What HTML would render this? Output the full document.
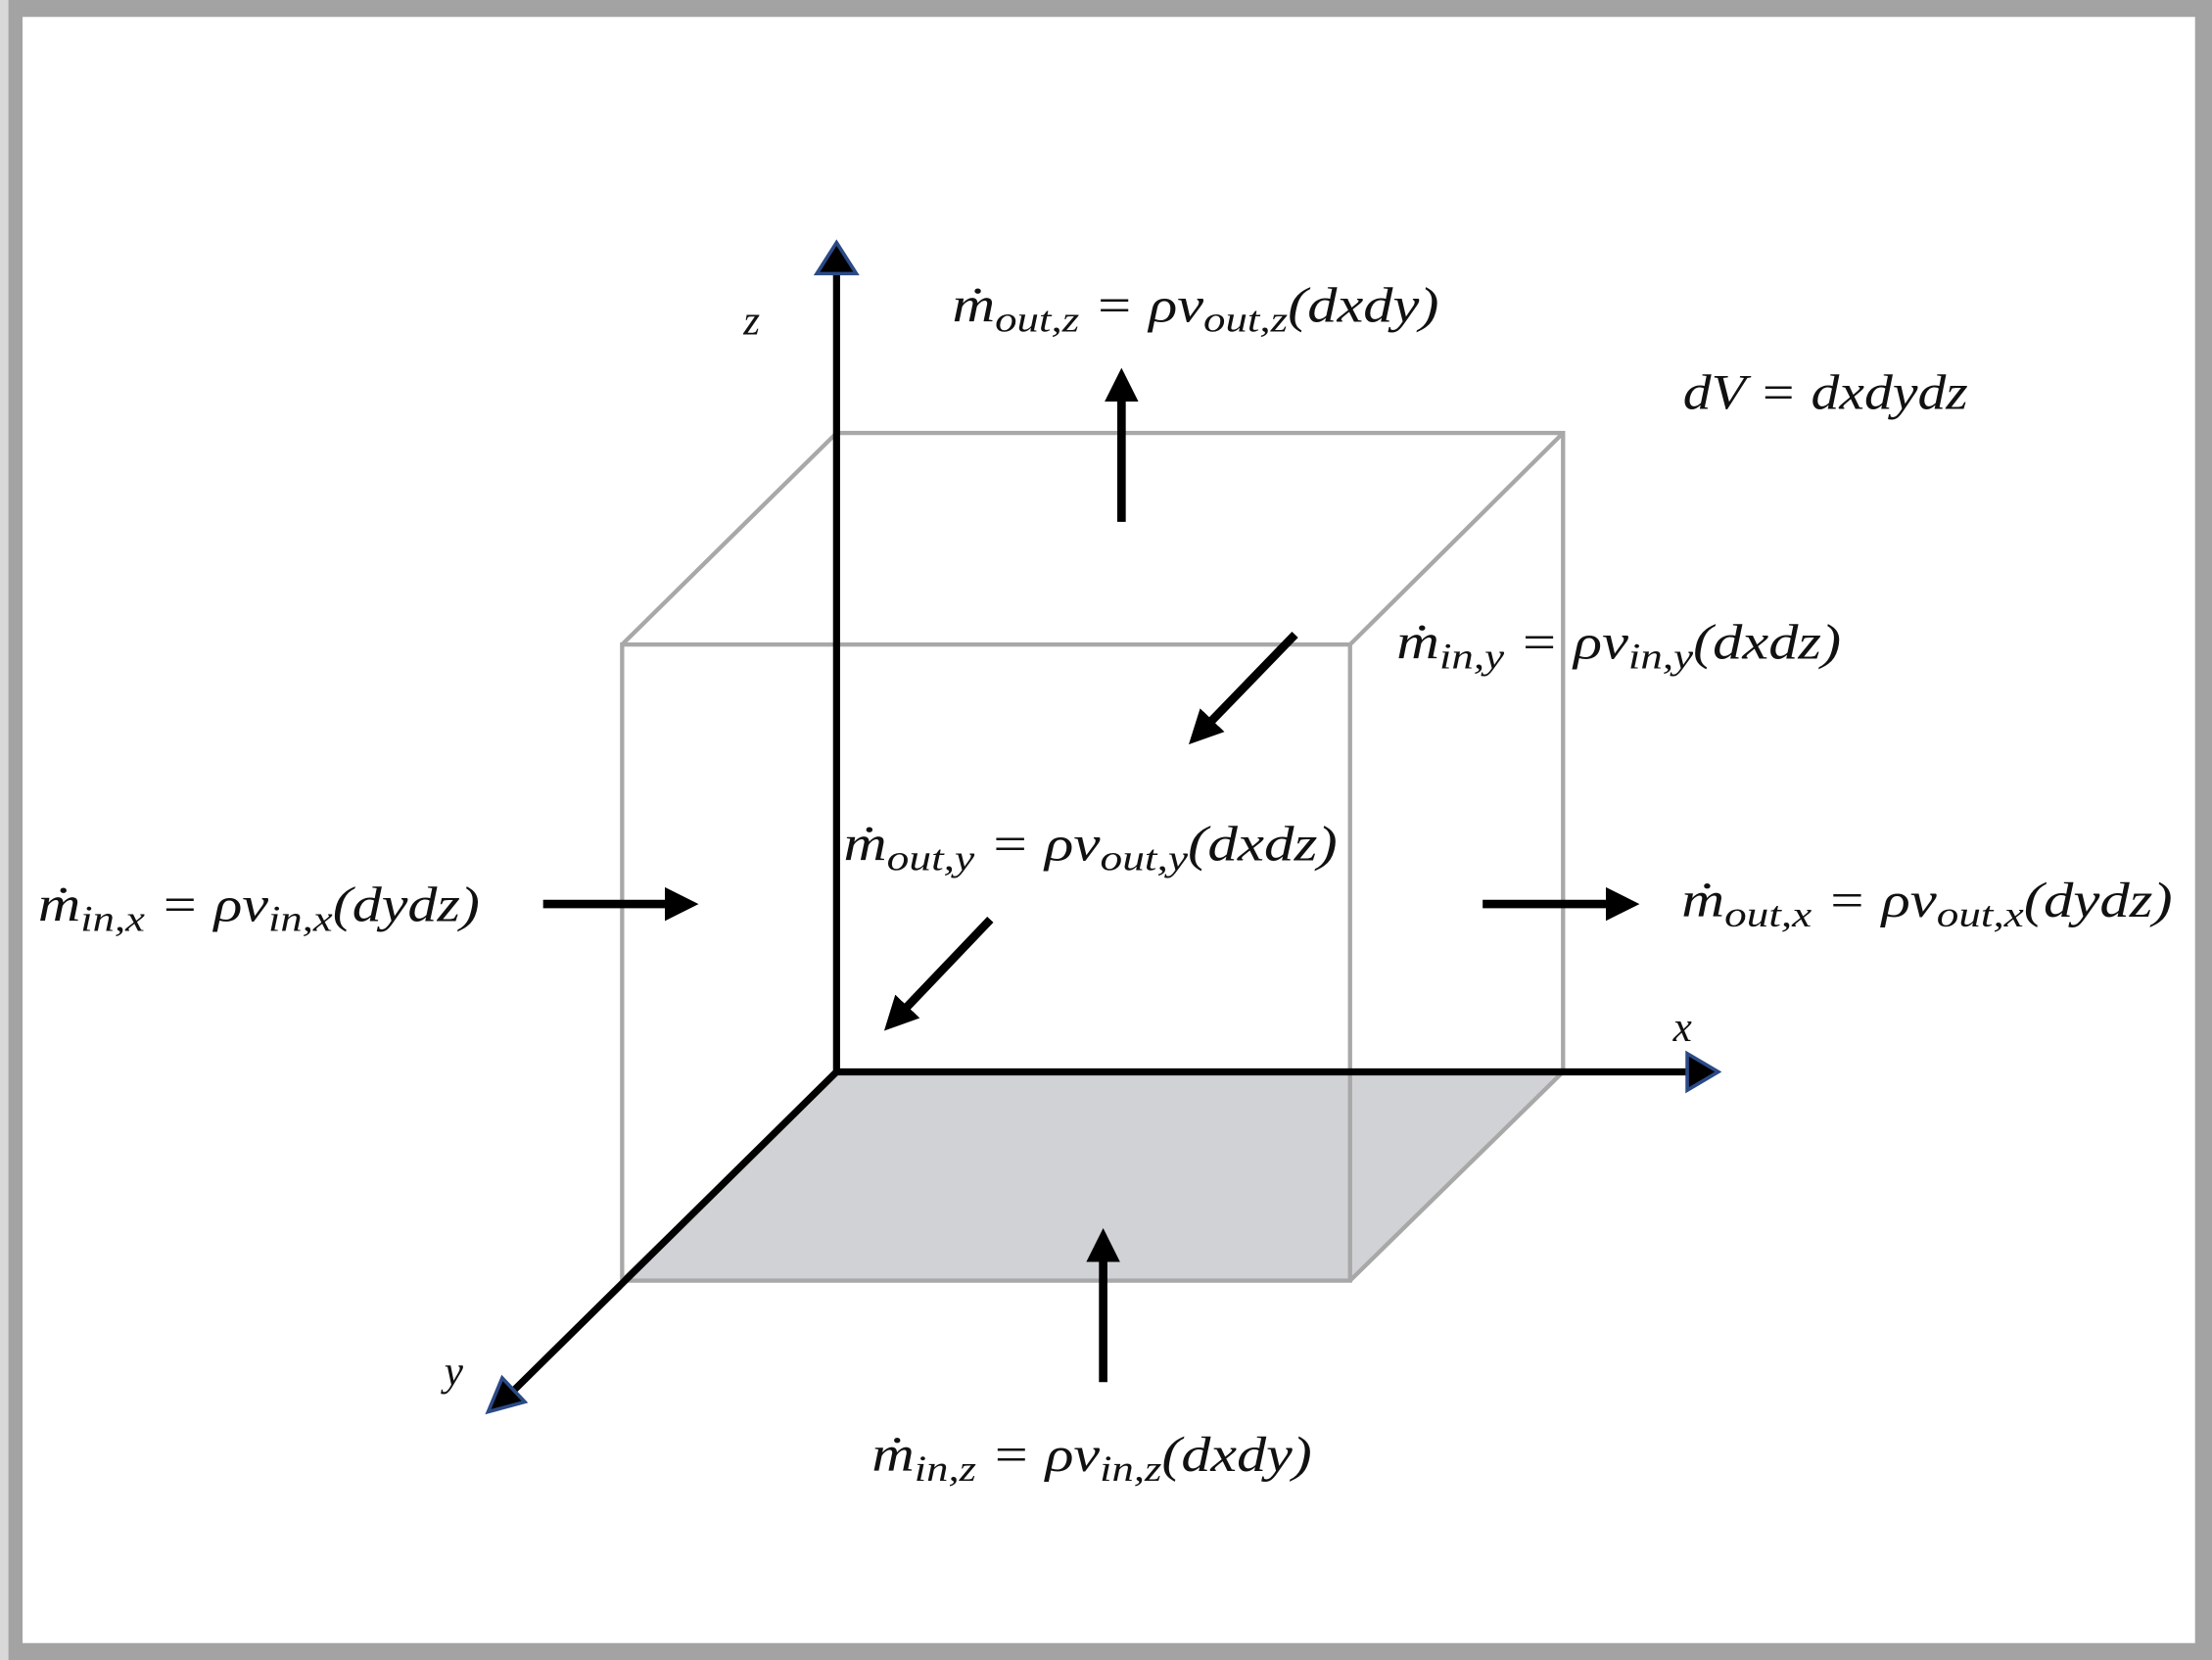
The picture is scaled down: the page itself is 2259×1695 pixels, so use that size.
<!DOCTYPE html>
<html><head><meta charset="utf-8"><style>
html,body{margin:0;padding:0;background:#fff;}
svg{display:block;}
text{font-family:"Liberation Serif",serif;font-style:italic;fill:#111;}
</style></head><body>
<svg width="2259" height="1695" viewBox="0 0 1568 1177" preserveAspectRatio="none">
<defs>
<marker id="ah" viewBox="0 0 10 10" refX="2" refY="5" markerWidth="4" markerHeight="4" orient="auto"><path d="M0,0 L10,5 L0,10 z" fill="#000"/></marker>
</defs>
<rect x="0" y="0" width="1568" height="1177" fill="#a3a3a3"/>
<rect x="0" y="0" width="6" height="1177" fill="#d8d8d8"/>
<rect x="16" y="12" width="1540" height="1153" fill="#fff"/>
<polygon points="593,760 1108,760 957,908 441,908" fill="#d0d2d6"/>
<g stroke="#a8a8a8" stroke-width="3" fill="none">
<rect x="441" y="457" width="516" height="451"/>
<rect x="593" y="307" width="515" height="453"/>
<line x1="441" y1="457" x2="593" y2="307"/>
<line x1="957" y1="457" x2="1108" y2="307"/>
<line x1="957" y1="908" x2="1108" y2="760"/>
<line x1="441" y1="908" x2="593" y2="760"/>
</g>
<g stroke="#000" stroke-width="5" fill="none">
<line x1="593" y1="762" x2="593" y2="192"/>
<line x1="591" y1="760" x2="1198" y2="760"/>
<line x1="593" y1="760" x2="362" y2="988"/>
</g>
<g fill="#000" stroke="#2b4a86" stroke-width="2.5">
<polygon points="593,172 579,194 607,194"/>
<polygon points="1218,760 1196,747 1196,773"/>
<polygon points="346,1001 356,977 372,994"/>
</g>
<g stroke="#000" stroke-width="6" marker-end="url(#ah)">
<line x1="795" y1="370" x2="795" y2="280"/>
<line x1="918" y1="450" x2="856" y2="514"/>
<line x1="702" y1="652" x2="640" y2="717"/>
<line x1="385" y1="641" x2="476" y2="641"/>
<line x1="1051" y1="641" x2="1143" y2="641"/>
<line x1="782" y1="980" x2="782" y2="890"/>
</g>
<text x="527" y="237" font-size="30">z</text>
<text x="1186" y="738" font-size="30">x</text>
<text x="315" y="982" font-size="30">y</text>
<text x="675" y="228" font-size="35" textLength="345" lengthAdjust="spacingAndGlyphs">ṁ<tspan font-size="26" dy="7">out,z</tspan><tspan dy="-7"> = ρv</tspan><tspan font-size="26" dy="7">out,z</tspan><tspan dy="-7">(dxdy)</tspan></text>
<text x="1193" y="290" font-size="35" textLength="202" lengthAdjust="spacingAndGlyphs">dV = dxdydz</text>
<text x="990" y="467" font-size="35" textLength="315" lengthAdjust="spacingAndGlyphs">ṁ<tspan font-size="26" dy="7">in,y</tspan><tspan dy="-7"> = ρv</tspan><tspan font-size="26" dy="7">in,y</tspan><tspan dy="-7">(dxdz)</tspan></text>
<text x="598" y="610" font-size="35" textLength="350" lengthAdjust="spacingAndGlyphs">ṁ<tspan font-size="26" dy="7">out,y</tspan><tspan dy="-7"> = ρv</tspan><tspan font-size="26" dy="7">out,y</tspan><tspan dy="-7">(dxdz)</tspan></text>
<text x="27" y="653" font-size="35" textLength="313" lengthAdjust="spacingAndGlyphs">ṁ<tspan font-size="26" dy="7">in,x</tspan><tspan dy="-7"> = ρv</tspan><tspan font-size="26" dy="7">in,x</tspan><tspan dy="-7">(dydz)</tspan></text>
<text x="1192" y="650" font-size="35" textLength="348" lengthAdjust="spacingAndGlyphs">ṁ<tspan font-size="26" dy="7">out,x</tspan><tspan dy="-7"> = ρv</tspan><tspan font-size="26" dy="7">out,x</tspan><tspan dy="-7">(dydz)</tspan></text>
<text x="618" y="1043" font-size="35" textLength="312" lengthAdjust="spacingAndGlyphs">ṁ<tspan font-size="26" dy="7">in,z</tspan><tspan dy="-7"> = ρv</tspan><tspan font-size="26" dy="7">in,z</tspan><tspan dy="-7">(dxdy)</tspan></text>
</svg>
</body></html>
